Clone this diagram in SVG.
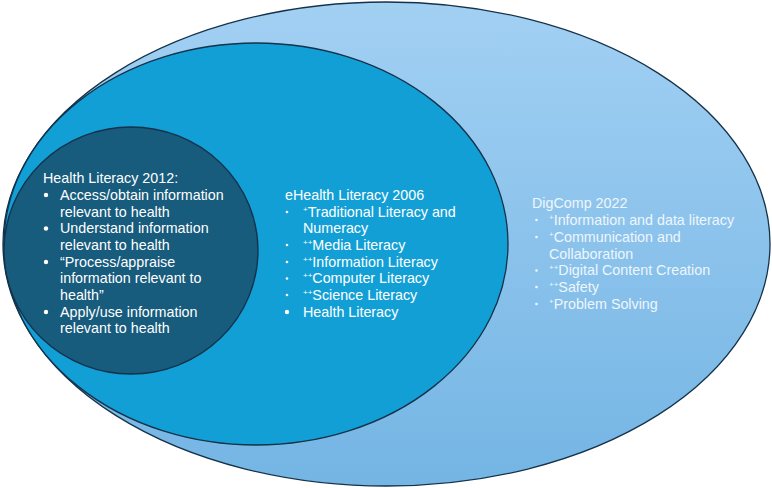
<svg xmlns="http://www.w3.org/2000/svg" width="772" height="488" viewBox="0 0 772 488">
<style>
.e{stroke:#14324a;stroke-width:1.3}
.t{font-family:"Liberation Sans",Arial,sans-serif;font-size:14.3px;fill:#ffffff}
.d{fill:#eef6fd}
.s{font-size:8px}
</style>
<defs>
<linearGradient id="g" x1="0" y1="0" x2="0" y2="1">
<stop offset="0" stop-color="#a2d0f3"/>
<stop offset="1" stop-color="#74b5e4"/>
</linearGradient>
</defs>
<rect width="772" height="488" fill="#ffffff"/>
<g id="digcomp">
<ellipse class="e" cx="386.5" cy="244" rx="383.5" ry="242" fill="url(#g)"/>
<text class="t d" x="532" y="208">DigComp 2022</text>
<g class="t d">
<circle cx="536.5" cy="220" r="1.3"/><circle cx="536.5" cy="237" r="1.3"/><circle cx="536.5" cy="270.5" r="1.3"/><circle cx="536.5" cy="287" r="1.3"/><circle cx="536.5" cy="304" r="1.3"/>
</g>
<text class="t d" x="549" y="225"><tspan class="s" dy="-5">+</tspan><tspan dy="5">Information and data literacy</tspan></text>
<text class="t d" x="549" y="242"><tspan class="s" dy="-5">+</tspan><tspan dy="5">Communication and</tspan></text>
<text class="t d" x="549" y="258.5">Collaboration</text>
<text class="t d" x="549" y="275"><tspan class="s" dy="-5">++</tspan><tspan dy="5">Digital Content Creation</tspan></text>
<text class="t d" x="549" y="292"><tspan class="s" dy="-5">++</tspan><tspan dy="5">Safety</tspan></text>
<text class="t d" x="549" y="308.5"><tspan class="s" dy="-5">+</tspan><tspan dy="5">Problem Solving</tspan></text>
</g>
<g id="ehealth">
<ellipse class="e" cx="256" cy="244" rx="252" ry="201" fill="#129fd6"/>
<text class="t" x="285" y="200">eHealth Literacy 2006</text>
<g fill="#ffffff">
<circle cx="287" cy="212" r="1.3"/><circle cx="287" cy="245" r="1.3"/><circle cx="287" cy="262" r="1.3"/><circle cx="287" cy="278.5" r="1.3"/><circle cx="287" cy="295" r="1.3"/><circle cx="287" cy="312" r="2.2"/>
</g>
<text class="t" x="303" y="216.5"><tspan class="s" dy="-5">+</tspan><tspan dy="5">Traditional Literacy and</tspan></text>
<text class="t" x="303" y="233">Numeracy</text>
<text class="t" x="303" y="250"><tspan class="s" dy="-5">++</tspan><tspan dy="5">Media Literacy</tspan></text>
<text class="t" x="303" y="266.5"><tspan class="s" dy="-5">++</tspan><tspan dy="5">Information Literacy</tspan></text>
<text class="t" x="303" y="283"><tspan class="s" dy="-5">++</tspan><tspan dy="5">Computer Literacy</tspan></text>
<text class="t" x="303" y="300"><tspan class="s" dy="-5">++</tspan><tspan dy="5">Science Literacy</tspan></text>
<text class="t" x="303" y="316.5">Health Literacy</text>
</g>
<g id="health">
<ellipse class="e" cx="131" cy="250.5" rx="127" ry="123.5" fill="#175b7d"/>
<text class="t" x="43" y="183">Health Literacy 2012:</text>
<g fill="#ffffff">
<circle cx="46" cy="195" r="2.2"/><circle cx="46" cy="228.5" r="2.2"/><circle cx="46" cy="262" r="2.2"/><circle cx="46" cy="312" r="2.2"/>
</g>
<text class="t" x="60" y="200">Access/obtain information</text>
<text class="t" x="60" y="216.5">relevant to health</text>
<text class="t" x="60" y="233">Understand information</text>
<text class="t" x="60" y="250">relevant to health</text>
<text class="t" x="60" y="266.5">“Process/appraise</text>
<text class="t" x="60" y="283">information relevant to</text>
<text class="t" x="60" y="300">health”</text>
<text class="t" x="60" y="316.5">Apply/use information</text>
<text class="t" x="60" y="333">relevant to health</text>
</g>
<g id="connectors"/>
</svg>
